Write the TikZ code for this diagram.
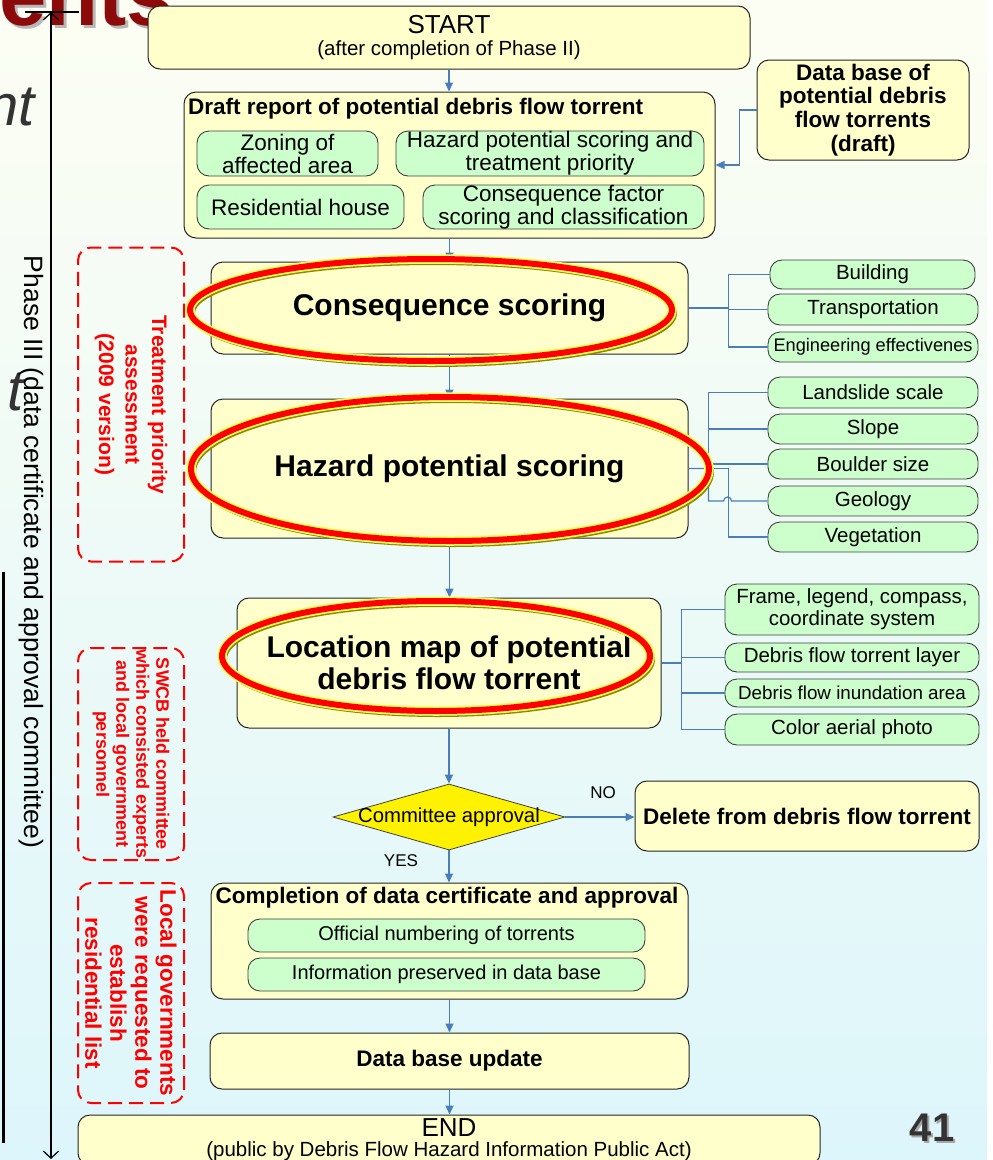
\documentclass[tikz,border=0pt]{standalone}
\usepackage{fontspec}
\setmainfont{Liberation Sans}
\usetikzlibrary{calc,arrows.meta,shapes.geometric}

\definecolor{panelyellow}{HTML}{FFFFCC}
\definecolor{leafgreen}{HTML}{CCFFCC}
\definecolor{flowblue}{HTML}{4A7EBB}
\definecolor{titlered}{HTML}{8C0A0A}
\definecolor{ringolive}{HTML}{8A8A00}
\definecolor{ringyellow}{HTML}{FFFF55}
\definecolor{bgtop}{HTML}{FDFEF3}
\definecolor{bgbot}{HTML}{DDF6FB}

% red highlight ring: (centre)(x radius/y radius)
\def\markring(#1)(#2/#3){%
  \draw[ringolive, line width=6pt] ($(#1)+(2,3)$) ellipse [x radius=#2pt, y radius=#3pt];
  \draw[ringyellow, line width=9.5pt] (#1) ellipse [x radius=#2pt, y radius=#3pt];
  \draw[red, line width=6pt] (#1) ellipse [x radius=#2pt, y radius=#3pt];}

\tikzset{
  panel/.style={draw=black!85, fill=panelyellow, rounded corners=12pt, line width=1pt,
    inner sep=0pt, align=center, font=\fontsize{22.5}{24}\selectfont\bfseries},
  leaf/.style={draw=black!75, fill=leafgreen, rounded corners=12pt, line width=0.9pt,
    inner sep=0pt, align=center, font=\fontsize{20.5}{22}\selectfont},
  rleaf/.style={leaf, minimum width=210pt, minimum height=30pt},
  decision/.style={diamond, draw=black!75, fill=yellow, line width=0.8pt,
    minimum width=232pt, minimum height=66pt, inner sep=0pt},
  notebox/.style={draw=red, line width=2pt, dash pattern=on 14pt off 7pt,
    rounded corners=13pt, rotate=-90, text=red, align=center, inner sep=0pt},
  flow/.style={draw=flowblue, line width=1.2pt, -{Triangle[length=9pt,width=8pt]}},
  link/.style={draw=flowblue, line width=1.2pt},
  tag/.style={inner sep=0pt, font=\fontsize{17}{18}\selectfont}
}

\begin{document}
\begin{tikzpicture}[x=1pt,y=-1pt]
	%%%%% START %%%%%
	\useasboundingbox (0,0) rectangle (993,1160);
	\clip (0,0) rectangle (993,1160);
	\fill[white] (0,0) rectangle (993,1160);
	\shade[top color=bgtop, bottom color=bgbot] (0,0) rectangle (987,1160);
	
	% slide fragments behind the chart
	\node[anchor=base east, inner sep=0pt, text=black!28, font=\fontsize{85}{85}\selectfont\bfseries] (titleshade) at (177,28) {ents};
	\node[anchor=base east, inner sep=0pt, text=titlered, font=\fontsize{85}{85}\selectfont\bfseries] (titlefrag) at (174,25) {ents};
	\node[anchor=base east, inner sep=0pt, text=black!80, font=\fontsize{58}{58}\selectfont\itshape] (subfraga) at (35,125) {nt};
	\node[anchor=base east, inner sep=0pt, text=black!80, font=\fontsize{58}{58}\selectfont\itshape] (subfragb) at (24,410) {t};
	\coordinate (edgetop) at (3,572);
	\coordinate (edgebot) at (3,1143);
	\draw[line width=3pt] (edgetop) -- (edgebot);
	
	% phase III span
	\coordinate (phasetop) at (51,12);
	\coordinate (phasebot) at (51,1159);
	\coordinate (ticka) at (25,12);
	\coordinate (tickb) at (79,12);
	\draw[line width=1.2pt] (ticka) -- (tickb);
	\draw[line width=1.2pt, {Straight Barb[length=7pt,width=15pt]}-{Straight Barb[length=7pt,width=15pt]}] (phasetop) -- (phasebot);
	\node[rotate=-90, inner sep=0pt, font=\fontsize{26.5}{28}\selectfont] (phase) at (31,552) {Phase III (data certificate and approval committee)};
	
	% side notes
	\node[notebox, minimum width=314pt, minimum height=106pt, font=\fontsize{21}{26.5}\selectfont\bfseries] (notea) at (131,404.5) {Treatment priority\\assessment\\(2009 version)};
	\node[notebox, minimum width=212pt, minimum height=106pt, font=\fontsize{18}{20}\selectfont\bfseries] (noteb) at (131,754) {SWCB held committee\\which consisted experts\\and local government\\personnel};
	\node[notebox, minimum width=220pt, minimum height=106pt, font=\fontsize{22.5}{25}\selectfont\bfseries] (notec) at (131,993) {Local governments\\were requested to\\establish\\residential list};
	
	% main chain
	\node[panel, minimum width=602pt, minimum height=63pt, font=\fontsize{20.5}{22}\selectfont] (start) at (449,37.5) {{\fontsize{26}{26}\selectfont START}\\(after completion of Phase II)};
	
	\node[panel, minimum width=531pt, minimum height=146pt] (draft) at (449.5,165) {};
	\node[anchor=west, inner sep=0pt, font=\fontsize{22.5}{24}\selectfont\bfseries] (drafttitle) at (188,109) {Draft report of potential debris flow torrent};
	\node[leaf, minimum width=181pt, minimum height=45pt, font=\fontsize{22.5}{23}\selectfont] (zone) at (287.5,153.5) {Zoning of\\affected area};
	\node[leaf, minimum width=308pt, minimum height=45pt, font=\fontsize{22.5}{23}\selectfont] (hzprio) at (550,153.5) {Hazard potential scoring and\\treatment priority};
	\node[leaf, minimum width=207pt, minimum height=44pt, font=\fontsize{22.5}{23}\selectfont] (resid) at (300.5,207) {Residential house};
	\node[leaf, minimum width=281pt, minimum height=44pt, font=\fontsize{22.5}{23}\selectfont] (cfactor) at (563.5,207) {Consequence factor\\scoring and classification};
	
	\node[panel, minimum width=212pt, minimum height=100pt, font=\fontsize{22.5}{23.7}\selectfont\bfseries] (dbase) at (863,110) {Data base of\\potential debris\\flow torrents\\(draft)};
	
	\node[panel, minimum width=477pt, minimum height=92pt, font=\fontsize{30}{33}\selectfont\bfseries] (cons) at (449.5,308) {Consequence scoring};
	\node[rleaf, minimum width=205pt, minimum height=29pt] (bldg) at (872.5,274.5) {Building};
	\node[rleaf, minimum height=31pt] (trans) at (873,309.5) {Transportation};
	\node[rleaf, font=\fontsize{18.2}{20}\selectfont] (engr) at (873,347) {Engineering effectivenes};
	
	\node[panel, minimum width=477pt, minimum height=139pt, font=\fontsize{30}{33}\selectfont\bfseries] (haz) at (449.5,468.5) {Hazard potential scoring};
	\node[rleaf, minimum height=31pt] (lands) at (873,392.5) {Landslide scale};
	\node[rleaf] (slope) at (873,429) {Slope};
	\node[rleaf] (bould) at (873,464) {Boulder size};
	\node[rleaf] (geol) at (873,501) {Geology};
	\node[rleaf] (veget) at (873,537) {Vegetation};
	
	\node[panel, minimum width=424pt, minimum height=130pt, font=\fontsize{30}{32}\selectfont\bfseries] (loc) at (449,663) {Location map of potential\\debris flow torrent};
	\node[rleaf, minimum width=254pt, minimum height=51pt] (frame) at (852,609.5) {Frame, legend, compass,\\coordinate system};
	\node[rleaf, minimum width=254pt, minimum height=29pt] (tlayer) at (852,657.5) {Debris flow torrent layer};
	\node[rleaf, minimum width=254pt, minimum height=28pt, font=\fontsize{18.8}{20}\selectfont] (inund) at (852,693) {Debris flow inundation area};
	\node[rleaf, minimum width=254pt, minimum height=31pt] (photo) at (852,729.5) {Color aerial photo};
	
	\node[decision] (dec) at (449,817) {};
	\node[inner sep=0pt, font=\fontsize{20.3}{22}\selectfont] (dectext) at (dec.center) {Committee approval};
	\node[panel, minimum width=344pt, minimum height=70pt] (del) at (807,816) {Delete from debris flow torrent};
	
	\node[panel, minimum width=477pt, minimum height=116pt] (comp) at (449.5,941) {};
	\node[inner sep=0pt, font=\fontsize{22.5}{24}\selectfont\bfseries] (comptitle) at (447,898) {Completion of data certificate and approval};
	\node[leaf, minimum width=397pt, minimum height=33pt, font=\fontsize{20}{22}\selectfont] (offnum) at (446.5,935.5) {Official numbering of torrents};
	\node[leaf, minimum width=397pt, minimum height=33pt, font=\fontsize{20}{22}\selectfont] (infodb) at (446.5,974.5) {Information preserved in data base};
	
	\node[panel, minimum width=479pt, minimum height=56pt] (upd) at (449.5,1061) {Data base update};
	\node[panel, minimum width=742pt, minimum height=50pt, font=\fontsize{20.5}{20}\selectfont] (fin) at (449,1140) {{\fontsize{26}{26}\selectfont END}\\(public by Debris Flow Hazard Information Public Act)};
	
	% flow arrows
	\draw[flow] (start.south) -- (start.south |- draft.north);
	\draw[flow] (dbase.west) -- ++(-17,0) |- (draft.east);
	\draw[flow] (draft.south) -- (draft.south |- cons.north);
	\draw[flow] (cons.south) -- (cons.south |- haz.north);
	\draw[flow] (haz.south) -- (haz.south |- loc.north);
	\draw[flow] (loc.south) -- (loc.south |- dec.north);
	\draw[flow] (dec.east) -- (dec.east -| del.west);
	\draw[flow] (dec.south) -- (dec.south |- comp.north);
	\draw[flow] (comp.south) -- (comp.south |- upd.north);
	\draw[flow] (upd.south) -- (upd.south |- fin.north);
	\node[tag] (nolabel) at (603,793) {NO};
	\node[tag] (yeslabel) at (401,861) {YES};
	
	% branches
	\draw[link] (cons.east) -- ++(40,0) |- (bldg.west);
	\draw[link] (cons.east) -- ++(40,0) |- (trans.west);
	\draw[link] (cons.east) -- ++(40,0) |- (engr.west);
	
	\draw[link] (haz.east) -- ++(20,0) |- (lands.west);
	\draw[link] (haz.east) -- ++(20,0) |- (slope.west);
	\draw[link] (haz.east) -- ++(20,0) |- (bould.west);
	\draw[link] (haz.east) -- ++(20,0) |- ($(geol.west)+(-44,0)$) arc (180:0:4pt) -- (geol.west);
	\draw[link] (haz.east) -- ++(40,0) |- (veget.west);
	
	\draw[link] (loc.east) -- ++(20,0) |- (frame.west);
	\draw[link] (loc.east) -- ++(20,0) |- (tlayer.west);
	\draw[link] (loc.east) -- ++(20,0) |- (inund.west);
	\draw[link] (loc.east) -- ++(20,0) |- (photo.west);
	
	% highlight rings
	\markring(431,310)(241/51)
	\markring(450,469)(259/72)
	\markring(436,656)(214/55)
	
	% page number
	\node[text=black!35, font=\fontsize{40}{40}\selectfont\bfseries] (pgshade) at (934,1130) {41};
	\node[text=black!80, font=\fontsize{40}{40}\selectfont\bfseries] (pgnum) at (932,1128) {41};
	%%%%% END %%%%%
\end{tikzpicture}
\end{document}
